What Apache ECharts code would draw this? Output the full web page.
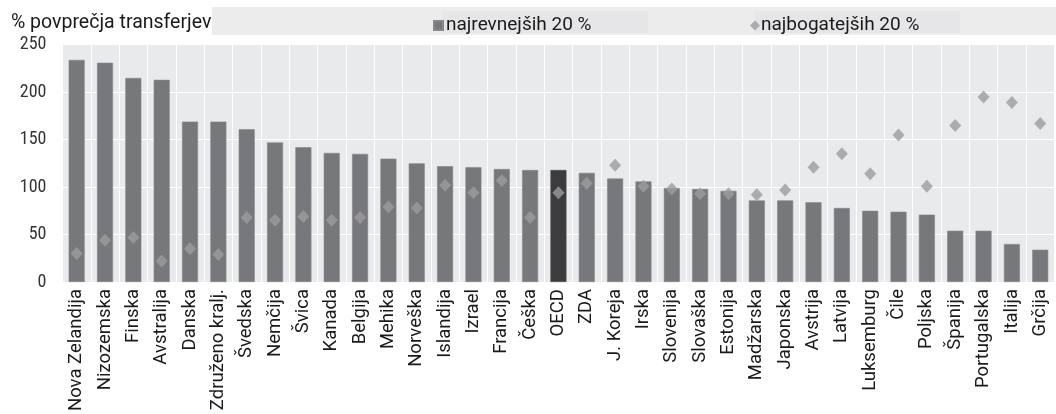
<!DOCTYPE html>
<html>
<head>
<meta charset="utf-8">
<script src="https://cdn.jsdelivr.net/npm/echarts@6/dist/echarts.min.js"></script>
<style>html,body{margin:0;padding:0;background:#fff}#c{width:1056px;height:414px}</style>
</head>
<body>
<div id="c"></div>
<script>
const categories = ["Nova Zelandija","Nizozemska","Finska","Avstralija","Danska","Združeno kralj.","Švedska","Nemčija","Švica","Kanada","Belgija","Mehika","Norveška","Islandija","Izrael","Francija","Češka","OECD","ZDA","J. Koreja","Irska","Slovenija","Slovaška","Estonija","Madžarska","Japonska","Avstrija","Latvija","Luksemburg","Čile","Poljska","Španija","Portugalska","Italija","Grčija"];
const poorest = [234,231,215,213,169,169,161,147,142,136,135,130,125,122,121,119,118,118,115,109,106,99,98,96,86,86,84,78,75,74,71,54,54,40,34];
const richest = [30,44,47,22,35,29,68,65,69,65,68,79,78,102,94,107,68,94,104,123,101,98,93,93,92,97,121,135,114,155,101,165,195,189,167];
const yTicks = [0,50,100,150,200,250];
const seriesNames = ["najrevnejših 20 %","najbogatejših 20 %"];
const axisTitle = "% povprečja transferjev";

const chart = echarts.init(document.getElementById('c'), null, {renderer:'canvas'});
const FONT = 'Roboto, "Liberation Sans", Arial, sans-serif';
const NARROW = '"Liberation Sans Narrow", "Roboto Condensed", "DejaVu Sans Condensed", Arial, sans-serif';
const BAR = '#77787b', OECD_BAR = '#3c3c3e', DIAMOND = '#9c9c9f';

chart.setOption({
  animation:false,
  backgroundColor:'#ffffff',
  title:{text:axisTitle, left:6, top:8, textStyle:{fontFamily:FONT, fontSize:19.5, fontWeight:'normal', color:'#1a1a1a'}},
  graphic:[
    {type:'rect', shape:{x:212,y:7,width:844,height:28}, style:{fill:'#ececed'}, z:-1},
    {type:'rect', shape:{x:443,y:11,width:205,height:22}, style:{fill:'#e6e6e8'}, z:-1},
    {type:'rect', shape:{x:755,y:11,width:205,height:22}, style:{fill:'#e6e6e8'}, z:-1}
  ],
  legend:[
    {data:[{name:seriesNames[0], icon:'rect'}], left:428, top:11, itemWidth:9, itemHeight:9, itemGap:0,
     textStyle:{fontFamily:FONT, fontSize:19, color:'#1a1a1a', padding:[0,0,0,-2]}, selectedMode:false},
    {data:[{name:seriesNames[1], icon:'diamond'}], left:745, top:11, itemWidth:10, itemHeight:10, itemGap:0,
     textStyle:{fontFamily:FONT, fontSize:19, color:'#1a1a1a', padding:[0,0,0,-4]}, selectedMode:false}
  ],
  grid:{left:62.5, right:1.6, top:44.7, bottom:131.3, show:true, backgroundColor:'#e9eaeb', borderWidth:0},
  xAxis:{
    type:'category', data:categories, boundaryGap:true,
    axisLine:{show:false}, axisTick:{show:false},
    splitLine:{show:true, lineStyle:{color:'#ffffff', width:1}},
    axisLabel:{rotate:90, interval:0, margin:7, fontFamily:FONT, fontSize:18.5, color:'#1a1a1a'}
  },
  yAxis:{
    type:'value', min:yTicks[0], max:yTicks[yTicks.length-1], interval:50,
    axisLine:{show:false}, axisTick:{show:false},
    splitLine:{show:true, lineStyle:{color:'#ffffff', width:1}},
    axisLabel:{margin:16, fontFamily:NARROW, fontSize:18, color:'#333333'}
  },
  series:[
    {name:seriesNames[0], type:'bar', barWidth:16,
     itemStyle:{color:BAR, borderColor:'#86878a', borderWidth:0.6},
     data:poorest.map((v,i)=> categories[i]==='OECD' ? {value:v, itemStyle:{color:OECD_BAR, borderColor:'#4a4a4c'}} : v)},
    {name:seriesNames[1], type:'scatter', symbol:'diamond', symbolSize:[12,13],
     itemStyle:{color:DIAMOND}, data:richest, z:3}
  ]
});
</script>
</body>
</html>
